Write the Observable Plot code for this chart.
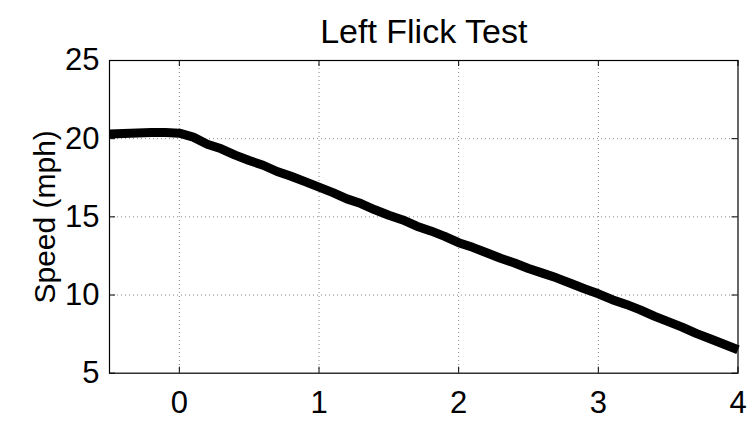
<!DOCTYPE html>
<html>
<head>
<meta charset="utf-8">
<script src="https://cdn.jsdelivr.net/npm/d3@7"></script>
<script src="https://cdn.jsdelivr.net/npm/@observablehq/plot@0.6"></script>
<style>
  html, body { margin: 0; padding: 0; background: #fff; }
  #chart svg { display: block; }
</style>
</head>
<body>
<div id="chart"></div>
<script>
const title = "Left Flick Test";
const yLabel = "Speed (mph)";
const xTicks = [0, 1, 2, 3, 4];
const yTicks = [5, 10, 15, 20, 25];
const xGrid = [0, 1, 2, 3];
const yGrid = [10, 15, 20];
const timeValues = [-0.5, -0.4, -0.3, -0.2, -0.1, 0.0, 0.1, 0.2, 0.3, 0.4, 0.5, 0.6, 0.7, 0.8, 0.9, 1.0,
  1.1, 1.2, 1.3, 1.4, 1.5, 1.6, 1.7, 1.8, 1.9, 2.0, 2.1, 2.2, 2.3, 2.4, 2.5, 2.6, 2.7, 2.8, 2.9, 3.0,
  3.1, 3.2, 3.3, 3.4, 3.5, 3.6, 3.7, 3.8, 3.9, 4.0];
const speedValues = [20.30, 20.33, 20.36, 20.40, 20.40, 20.35, 20.10, 19.65, 19.35, 18.95, 18.60, 18.30, 17.90, 17.60, 17.25, 16.90,
  16.55, 16.15, 15.85, 15.45, 15.10, 14.80, 14.40, 14.10, 13.75, 13.35, 13.05, 12.70, 12.35, 12.05, 11.70, 11.40, 11.10, 10.75, 10.40, 10.08,
  9.70, 9.40, 9.05, 8.65, 8.30, 7.95, 7.55, 7.20, 6.85, 6.50];

const data = timeValues.map((t, i) => ({t, v: speedValues[i]}));

const W = 756, H = 421;
const mL = 109, mR = 18.5, mT = 60, mB = 48.3;
const innerW = W - mL - mR, innerH = H - mT - mB;
const tick = 6;

const chart = Plot.plot({
  width: W, height: H,
  marginLeft: mL, marginRight: mR, marginTop: mT, marginBottom: mB,
  style: {fontFamily: "'Liberation Sans', Arial, Helvetica, sans-serif", fontSize: "30px", color: "#000", background: "#fff"},
  x: {domain: [-0.5, 4]},
  y: {domain: [5, 25]},
  marks: [
    Plot.ruleX(xGrid, {stroke: "#888", strokeDasharray: "1,3", strokeWidth: 1}),
    Plot.ruleY(yGrid, {stroke: "#888", strokeDasharray: "1,3", strokeWidth: 1}),
    Plot.ruleX(xTicks, {stroke: "#000", insetTop: innerH - tick}),
    Plot.ruleX(xTicks, {stroke: "#000", insetBottom: innerH - tick}),
    Plot.ruleY(yTicks, {stroke: "#000", insetRight: innerW - tick}),
    Plot.ruleY(yTicks, {stroke: "#000", insetLeft: innerW - tick}),
    Plot.axisX(xTicks, {tickSize: 0, tickPadding: 18, label: null, fontSize: 31, tickFormat: d => String(d)}),
    Plot.axisY(yTicks, {tickSize: 0, tickPadding: 10, label: null, fontSize: 31, tickFormat: d => String(d)}),
    Plot.line(data, {x: "t", y: "v", stroke: "#000", strokeWidth: 9, strokeLinejoin: "round", strokeLinecap: "butt"}),
    Plot.frame({stroke: "#000", strokeWidth: 1.2}),
    Plot.text([title], {frameAnchor: "top", lineAnchor: "middle", textAnchor: "middle", dy: -28, fontSize: 34, fill: "#000"}),
    Plot.text([yLabel], {frameAnchor: "left", lineAnchor: "middle", textAnchor: "middle", rotate: -90, dx: -64, fontSize: 30, fill: "#000"})
  ]
});
document.getElementById("chart").appendChild(chart);
</script>
</body>
</html>
